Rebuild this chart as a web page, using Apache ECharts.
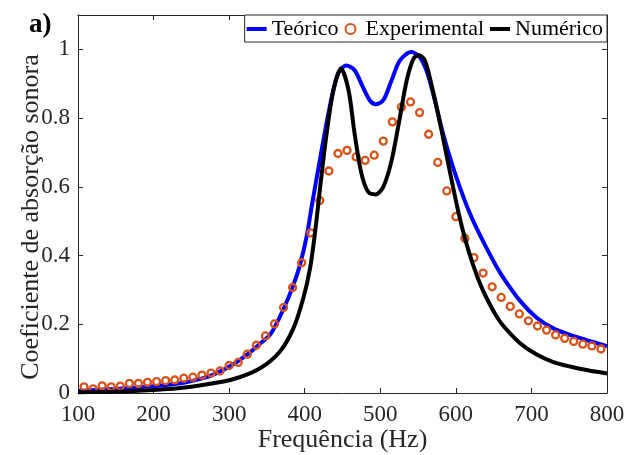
<!DOCTYPE html>
<html>
<head>
<meta charset="utf-8">
<script src="https://cdn.jsdelivr.net/npm/echarts@6/dist/echarts.min.js"></script>
<style>
html,body{margin:0;padding:0;background:#fff;}
#chart{width:638px;height:455px;}
</style>
</head>
<body>
<div id="chart"></div>
<script>
// Teórico (blue): [frequency Hz, absorption]
const teoricoData = [[100,0.006],[150,0.012],[200,0.02],[240,0.03],[262,0.041],[280,0.054],[305,0.083],[325,0.114],[340,0.142],[355,0.172],[372,0.245],[385,0.314],[394,0.375],[403,0.46],[409,0.54],[420,0.677],[433,0.832],[444,0.929],[455,0.953],[466,0.939],[477,0.89],[486,0.852],[494,0.84],[504,0.852],[515,0.91],[526,0.968],[541,0.992],[552,0.978],[561,0.939],[570,0.871],[583,0.755],[597,0.652],[610,0.57],[620,0.515],[630,0.468],[641,0.42],[652,0.375],[663,0.335],[685,0.268],[707,0.219],[729,0.188],[751,0.169],[773,0.154],[800,0.136]];
// Experimental (orange circles)
const expFreq = [108,120,132,144,156,168,180,192,204,216,228,240,252,264,276,288,300,312,324,336,348,360,372,384,396,408,420,432,444,456,468,480,492,504,516,528,540,552,564,576,588,600,612,624,636,648,660,672,684,696,708,720,732,744,756,768,780,792];
const expAbs = [0.018,0.012,0.021,0.018,0.020,0.028,0.028,0.031,0.033,0.036,0.038,0.043,0.046,0.052,0.058,0.064,0.080,0.089,0.113,0.139,0.166,0.201,0.249,0.307,0.379,0.466,0.560,0.646,0.697,0.706,0.687,0.677,0.692,0.733,0.789,0.832,0.847,0.816,0.753,0.671,0.588,0.513,0.450,0.394,0.349,0.309,0.278,0.252,0.230,0.210,0.195,0.183,0.169,0.159,0.150,0.142,0.137,0.128];
// Numérico (black)
const numericoData = [[100,0.002],[150,0.004],[200,0.009],[232,0.014],[261,0.022],[305,0.04],[341,0.072],[367,0.12],[385,0.188],[398,0.275],[407,0.362],[413,0.455],[418,0.55],[421,0.61],[429,0.755],[438,0.881],[448,0.944],[458,0.881],[466,0.755],[475,0.639],[484,0.585],[494,0.578],[504,0.6],[515,0.677],[526,0.803],[535,0.91],[544,0.973],[551,0.983],[559,0.968],[570,0.876],[581,0.765],[592,0.645],[603,0.53],[612,0.45],[622,0.378],[632,0.318],[641,0.275],[652,0.23],[663,0.195],[685,0.145],[707,0.112],[729,0.09],[751,0.077],[773,0.067],[800,0.057]];
const seriesNames = ['Teórico','Experimental','Numérico'];
const xTitle = 'Frequência (Hz)';
const yTitle = 'Coeficiente de absorção sonora';
const panelLabel = 'a)';

const FONT = 'Liberation Serif';
const AX = '#262626';
const expData = expFreq.map((f,i)=>[f,expAbs[i]]);
const lineIcon = 'path://M0,0H20V4H0Z';

const chart = echarts.init(document.getElementById('chart'), null, {renderer:'canvas'});
const axisCommon = {
  type:'value',
  axisLine:{show:true,onZero:false,lineStyle:{color:AX,width:1}},
  axisTick:{show:true,inside:true,length:5,lineStyle:{color:AX,width:1}},
  splitLine:{show:false}
};
chart.setOption({
  animation:false,
  backgroundColor:'#fff',
  title:{text:panelLabel,left:24,top:7,textStyle:{fontFamily:FONT,fontSize:27,fontWeight:'bold',color:'#000'}},
  grid:{left:78,right:31,top:15,bottom:62,containLabel:false,outerBoundsMode:'none'},
  legend:{
    data:[
      {name:seriesNames[0],icon:lineIcon,itemStyle:{color:'#0000ff'}},
      {name:seriesNames[1]},
      {name:seriesNames[2],icon:lineIcon,itemStyle:{color:'#000000'}}
    ],
    right:31,top:15,orient:'horizontal',
    itemWidth:20,itemHeight:10,itemGap:6,
    padding:[3,4,2,2],
    backgroundColor:'#fff',borderColor:AX,borderWidth:1,borderRadius:0,
    textStyle:{fontFamily:FONT,fontSize:22,color:'#000'}
  },
  xAxis:[
    Object.assign({},axisCommon,{min:100,max:800,interval:100,position:'bottom',
      axisLabel:{fontFamily:FONT,fontSize:23,color:AX,margin:10},
      name:xTitle,nameLocation:'middle',nameGap:34,nameMoveOverlap:false,
      nameTextStyle:{fontFamily:FONT,fontSize:26,color:AX}}),
    Object.assign({},axisCommon,{min:100,max:800,interval:100,position:'top',axisLabel:{show:false}})
  ],
  yAxis:[
    Object.assign({},axisCommon,{min:0,max:1.1,interval:0.2,position:'left',
      axisLabel:{fontFamily:FONT,fontSize:23,color:AX,margin:8,showMaxLabel:false,
        formatter:v=>String(Math.round(v*10)/10)},
      name:yTitle,nameLocation:'middle',nameGap:34,nameRotate:90,nameMoveOverlap:false,
      nameTextStyle:{fontFamily:FONT,fontSize:26,color:AX,padding:[0,26,0,0]}}),
    Object.assign({},axisCommon,{min:0,max:1.1,interval:0.2,position:'right',axisLabel:{show:false}})
  ],
  series:[
    {name:seriesNames[0],type:'line',data:teoricoData,smooth:0.3,showSymbol:false,symbol:'none',
      lineStyle:{color:'#0000ff',width:4},itemStyle:{color:'#0000ff'},z:2},
    {name:seriesNames[1],type:'scatter',data:expData,symbol:'circle',symbolSize:7,
      itemStyle:{color:'rgba(255,255,255,0)',borderColor:'#D95319',borderWidth:2.3,opacity:1},z:3},
    {name:seriesNames[2],type:'line',data:numericoData,smooth:0.3,showSymbol:false,symbol:'none',
      lineStyle:{color:'#000000',width:4},itemStyle:{color:'#000000'},z:4}
  ]
});
</script>
</body>
</html>
